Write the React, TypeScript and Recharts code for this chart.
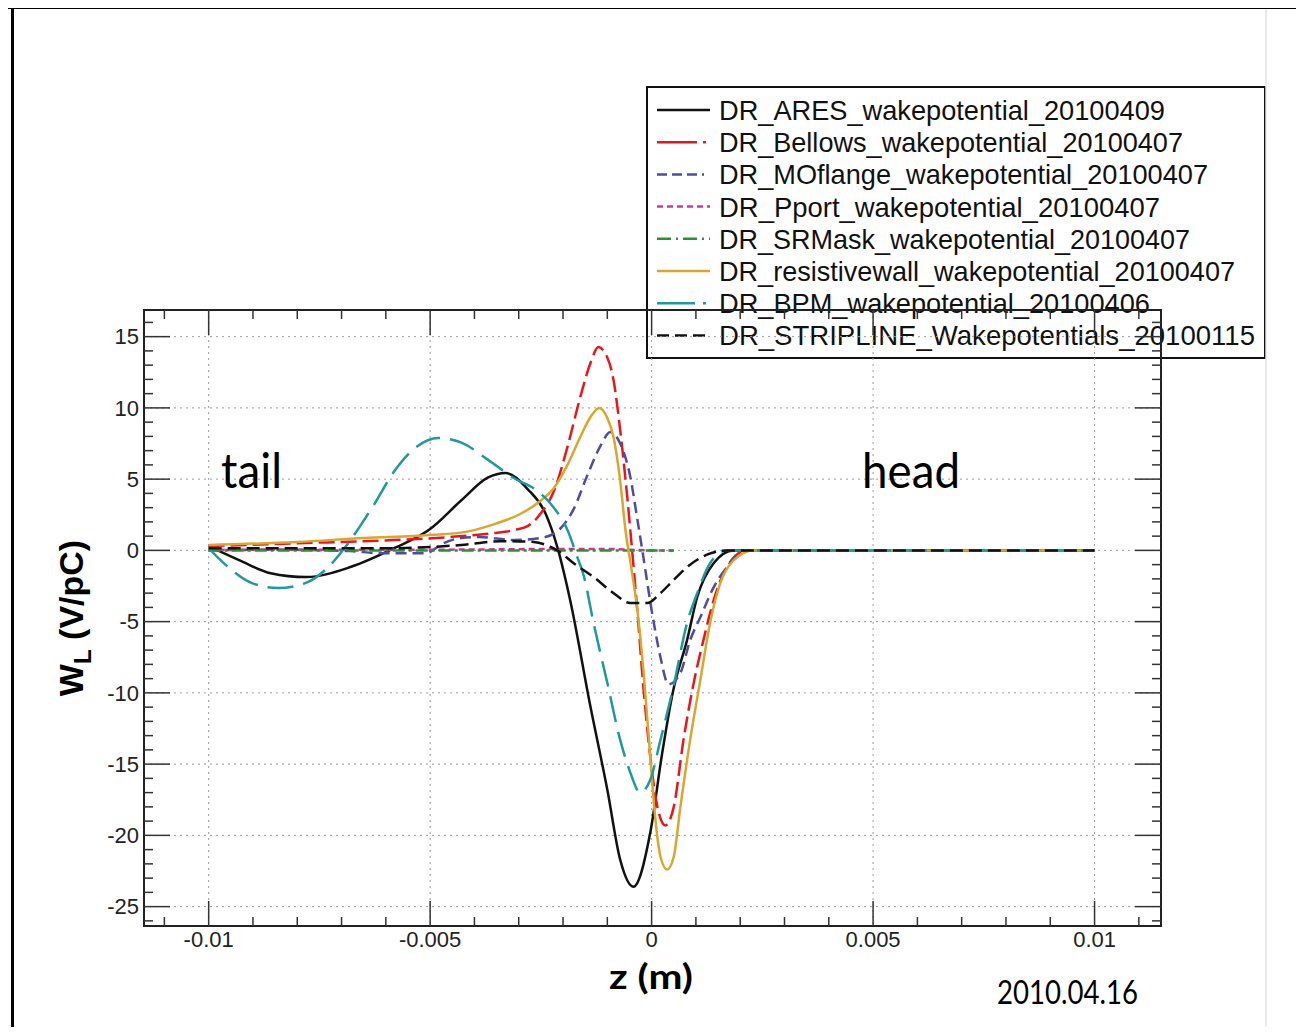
import { LineChart, Line, XAxis, YAxis, CartesianGrid, ReferenceLine, ReferenceArea } from 'recharts';

// wake potentials, z in metres, W_L in V/pC
const zAres = [-0.01, -0.0093, -0.0086, -0.0078, -0.0068, -0.0058, -0.005, -0.0043, -0.0037, -0.0033, -0.0028, -0.0024, -0.00213, -0.00184, -0.00138, -0.001, -0.00071, -0.00041, -0.00003, 0.00024, 0.00049, 0.0008, 0.00103, 0.0014, 0.00185, 0.0025, 0.01];
const wAres = [0.3, -0.7, -1.6, -1.87, -1.17, 0.17, 1.5, 3.5, 5.1, 5.43, 4.3, 2.62, 0.24, -3.48, -10.98, -16.8, -21.7, -23.6, -19.8, -14.2, -9.8, -6.3, -3.27, -0.9, 0, 0, 0];

const zBellows = [-0.01, -0.008, -0.006, -0.0045, -0.0036, -0.0031, -0.0028, -0.0025, -0.0022, -0.0019, -0.00161, -0.00138, -0.0012, -0.00101, -0.00086, -0.00071, -0.00055, -0.00044, -0.00033, -0.00018, -0.00003, 0.00013, 0.00031, 0.0005, 0.00072, 0.00095, 0.00117, 0.0014, 0.0017, 0.00215, 0.0028, 0.01];
const wBellows = [0.3, 0.5, 0.7, 0.95, 1.2, 1.43, 1.7, 2.6, 4.2, 7.26, 10.77, 13.15, 14.27, 13.6, 11.96, 8.45, 3.75, 0, -3.96, -9.8, -14.5, -18, -19.3, -18, -13.3, -9.3, -6.3, -3.5, -1.17, 0, 0, 0];

const zMOflange = [-0.01, -0.0085, -0.0068, -0.0061, -0.0051, -0.0047, -0.0043, -0.0039, -0.0031, -0.0025, -0.00207, -0.00176, -0.00146, -0.00116, -0.00093, -0.00071, -0.00048, -0.00033, -0.00021, 0.00005, 0.0002, 0.00038, 0.00065, 0.00087, 0.0011, 0.0014, 0.0017, 0.00207, 0.0028, 0.01];
const wMOflange = [0, 0.05, -0.05, -0.2, -0.2, 0.5, 0.87, 0.94, 0.73, 0.87, 1.5, 2.9, 5.2, 7.3, 8.3, 7.5, 5.14, 2.34, 0, -5.1, -7.5, -9.4, -8.6, -6.3, -4.7, -2.6, -1.17, 0, 0, 0];

const zPport = [-0.01, -0.005, -0.002, -0.001, 0, 0.0005];
const wPport = [0.05, 0.05, 0.1, 0.1, 0, 0];

const zSRMask = [-0.01, -0.005, 0, 0.0005];
const wSRMask = [0, 0, 0, 0];

const zResistive = [-0.01, -0.008, -0.0065, -0.005, -0.0042, -0.0035, -0.003, -0.0025, -0.0022, -0.0019, -0.00161, -0.00138, -0.00118, -0.00101, -0.00086, -0.00071, -0.00059, -0.00044, -0.00033, -0.00018, -0.00003, 0.00008, 0.0002, 0.00035, 0.0005, 0.00065, 0.00087, 0.0011, 0.00132, 0.00155, 0.00185, 0.0023, 0.003, 0.01];
const wResistive = [0.38, 0.59, 0.87, 1.08, 1.3, 1.9, 2.5, 3.5, 4.4, 6.0, 7.96, 9.36, 10, 9.36, 7.96, 4.9, 1.43, -1.6, -3.96, -8.6, -14.5, -18.7, -21.5, -22.4, -21.5, -18, -13.3, -9.1, -5.1, -2.3, -0.7, 0, 0, 0];

const zBPM = [-0.01, -0.00956, -0.00902, -0.00843, -0.00782, -0.0073, -0.00685, -0.0063, -0.00579, -0.00534, -0.00481, -0.00428, -0.00369, -0.00315, -0.00251, -0.00222, -0.0019, -0.00168, -0.00153, -0.00131, -0.001, -0.00071, -0.00048, -0.00026, -0.00003, 0.0002, 0.00049, 0.0008, 0.00103, 0.00132, 0.0017, 0.0025, 0.01];
const wBPM = [0.15, -1.17, -2.3, -2.64, -2.3, -1.17, 0.5, 3.05, 5.64, 7.19, 7.89, 7.54, 6.35, 5.15, 4.0, 3.05, 1.43, -0.45, -1.8, -5.1, -9.3, -13.3, -15.6, -17, -16.1, -13.3, -9.6, -5.1, -3.0, -0.9, 0, 0, 0];

const zStripline = [-0.01, -0.006, -0.0043, -0.0034, -0.00266, -0.00228, -0.00213, -0.00176, -0.00131, -0.00086, -0.00048, -0.0001, 0.0002, 0.00049, 0.00087, 0.00125, 0.0017, 0.0025, 0.01];
const wStripline = [0.15, 0.15, 0.38, 0.65, 0.59, 0.24, 0, -0.9, -1.87, -3.0, -3.7, -3.7, -3.0, -2.1, -1.0, -0.3, 0, 0, 0];

const xTicks = [-0.01, -0.005, 0, 0.005, 0.01];
const yTicks = [-25, -20, -15, -10, -5, 0, 5, 10, 15];

const X_DOMAIN: [number, number] = [-0.01146, 0.0115];
const Y_DOMAIN: [number, number] = [-26.36, 16.87];

const toPoints = (z: number[], w: number[]) => z.map((v, i) => ({ z: v, w: w[i] }));

const series = [
  { name: 'DR_ARES_wakepotential_20100409', data: toPoints(zAres, wAres), color: '#111111', dash: undefined, end: 1165 },
  { name: 'DR_Bellows_wakepotential_20100407', data: toPoints(zBellows, wBellows), color: '#e8161c', dash: '16 6', end: 1183 },
  { name: 'DR_MOflange_wakepotential_20100407', data: toPoints(zMOflange, wMOflange), color: '#4f4c9c', dash: '11 6', end: 1208 },
  { name: 'DR_Pport_wakepotential_20100407', data: toPoints(zPport, wPport), color: '#d0359c', dash: '6 4', end: 1160 },
  { name: 'DR_SRMask_wakepotential_20100407', data: toPoints(zSRMask, wSRMask), color: '#27942c', dash: '12 4 3 4', end: 1190 },
  { name: 'DR_resistivewall_wakepotential_20100407', data: toPoints(zResistive, wResistive), color: '#d9a62e', dash: undefined, end: 1235 },
  { name: 'DR_BPM_wakepotential_20100406', data: toPoints(zBPM, wBPM), color: '#1e9a9a', dash: '26 10', end: 1150 },
  { name: 'DR_STRIPLINE_Wakepotentials_20100115', data: toPoints(zStripline, wStripline), color: '#111111', dash: '13 6', end: 1255 },
];

const legendDash = ['', '40 6 3 20', '10 5 10 5 10 5 2 20', '6 4', '14 5 2 5', '', '38 8 3 20', '12 6 12 6 12 5 2 20'];

// inward ticks on all four sides (ROOT style)
const PX_X = (X_DOMAIN[1] - X_DOMAIN[0]) / 1017;
const PX_Y = (Y_DOMAIN[1] - Y_DOMAIN[0]) / 616;
const minorX: number[] = [];
for (let i = -11; i <= 11; i++) minorX.push(i / 1000);
const minorY: number[] = [];
for (let i = -26; i <= 16; i++) minorY.push(i);

const tickFont = { fontSize: 22, fill: '#222', fontFamily: '"Liberation Sans", Arial, sans-serif' };

const WakeChart = () => (
  <LineChart
    width={1304}
    height={1035}
    margin={{ top: 310, right: 143, bottom: 69, left: 84 }}
    style={{ fontFamily: '"Liberation Sans", Arial, sans-serif' }}
  >
    <CartesianGrid stroke="#9a9a9a" strokeDasharray="2 4" strokeWidth={1} />
    <XAxis
      dataKey="z"
      type="number"
      domain={X_DOMAIN}
      allowDataOverflow
      ticks={xTicks}
      interval={0}
      tickFormatter={(v: number) => (v === 0 ? '0' : String(v))}
      tick={tickFont}
      tickLine={false}
      axisLine={false}
      tickSize={0}
      tickMargin={5}
      height={40}
    />
    <YAxis
      type="number"
      domain={Y_DOMAIN}
      allowDataOverflow
      ticks={yTicks}
      interval={0}
      tick={tickFont}
      tickLine={false}
      axisLine={false}
      tickSize={0}
      tickMargin={5}
      width={60}
    />
    {series.map((s) => (
      <Line
        key={s.name}
        data={s.data}
        dataKey="w"
        type="monotone"
        stroke={s.color}
        strokeWidth={2.5}
        strokeDasharray={s.dash}
        dot={false}
        activeDot={false}
        isAnimationActive={false}
      />
    ))}
    {minorX.map((x) => {
      const len = (Math.abs(x * 1000) % 5 === 0 ? 25 : 9) * PX_Y;
      return [
        <ReferenceLine key={`xb${x}`} ifOverflow="visible" stroke="#333" strokeWidth={1.5}
          segment={[{ x, y: Y_DOMAIN[0] }, { x, y: Y_DOMAIN[0] + len }]} />,
        <ReferenceLine key={`xt${x}`} ifOverflow="visible" stroke="#333" strokeWidth={1.5}
          segment={[{ x, y: Y_DOMAIN[1] }, { x, y: Y_DOMAIN[1] - len }]} />,
      ];
    })}
    {minorY.map((y) => {
      const len = (Math.abs(y) % 5 === 0 ? 26 : 9) * PX_X;
      return [
        <ReferenceLine key={`yl${y}`} ifOverflow="visible" stroke="#333" strokeWidth={1.5}
          segment={[{ x: X_DOMAIN[0], y }, { x: X_DOMAIN[0] + len, y }]} />,
        <ReferenceLine key={`yr${y}`} ifOverflow="visible" stroke="#333" strokeWidth={1.5}
          segment={[{ x: X_DOMAIN[1], y }, { x: X_DOMAIN[1] - len, y }]} />,
      ];
    })}
    <ReferenceArea
      x1={X_DOMAIN[0]}
      x2={X_DOMAIN[1]}
      y1={Y_DOMAIN[0]}
      y2={Y_DOMAIN[1]}
      ifOverflow="visible"
      fill="none"
      fillOpacity={0}
      stroke="#222"
      strokeWidth={2}
    />
  </LineChart>
);

const Legend = () => (
  <svg width={1304} height={1035} style={{ position: 'absolute', left: 0, top: 0, zIndex: 0 }}>
    <rect x={647} y={87} width={618} height={271} fill="#fff" stroke="#111" strokeWidth={2} />
    {series.map((s, i) => {
      const cy = 110 + i * 32.2;
      return (
        <g key={s.name}>
          <line x1={657} x2={710} y1={cy} y2={cy} stroke={s.color} strokeWidth={2.5}
            strokeDasharray={legendDash[i] || undefined} />
          <text x={719} y={cy + 10} fontSize={28} fill="#111" textLength={s.end - 719}
            lengthAdjust="spacingAndGlyphs" fontFamily='"Liberation Sans", Arial, sans-serif'>
            {s.name}
          </text>
        </g>
      );
    })}
  </svg>
);

const Overlay = () => (
  <svg width={1304} height={1035} style={{ position: 'absolute', left: 0, top: 0, zIndex: 2, pointerEvents: 'none' }}>
    <rect x={0} y={6} width={1304} height={3} fill="#000" />
    <rect x={11} y={6} width={3} height={1029} fill="#000" />
    <line x1={1266} x2={1266} y1={9} y2={1035} stroke="#e4e4e4" strokeWidth={1.5} />
    <text x={221} y={488} fontSize={48} fontFamily="Lato, sans-serif" fill="#000" textLength={61}
      lengthAdjust="spacingAndGlyphs">tail</text>
    <text x={862} y={488} fontSize={48} fontFamily="Lato, sans-serif" fill="#000" textLength={98}
      lengthAdjust="spacingAndGlyphs">head</text>
    <text x={651} y={989} fontSize={35} fontWeight="bold" fontFamily="Lato, sans-serif" fill="#000"
      textAnchor="middle" textLength={84} lengthAdjust="spacingAndGlyphs">z (m)</text>
    <text x={997} y={1004} fontSize={33} fontFamily="Lato, sans-serif" fill="#000" textLength={141}
      lengthAdjust="spacingAndGlyphs">2010.04.16</text>
    <text transform="rotate(-90 83 618)" x={83} y={618} fontSize={34} fontWeight="bold"
      fontFamily='"Liberation Sans", Arial, sans-serif' fill="#000" textAnchor="middle">
      W<tspan fontSize={24} dy={8}>L</tspan><tspan dy={-8}> (V/pC)</tspan>
    </text>
  </svg>
);

const App = () => (
  <div style={{ position: 'relative', width: 1304, height: 1035, margin: -8, background: '#fff', overflow: 'hidden' }}>
    <Legend />
    <div style={{ position: 'absolute', left: 0, top: 0, zIndex: 1 }}>
      <WakeChart />
    </div>
    <Overlay />
  </div>
);

export default App;
